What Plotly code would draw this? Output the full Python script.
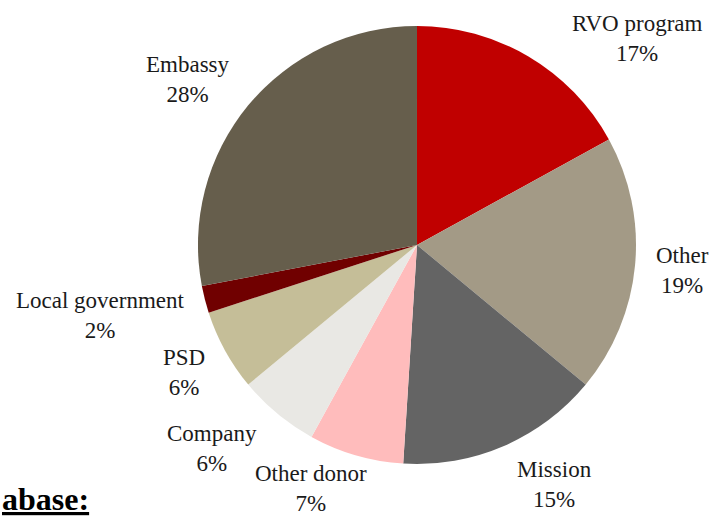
import plotly.graph_objects as go

# funding source shares (%), clockwise from 12 o'clock
sources = ["RVO program", "Other", "Mission", "Other donor", "Company", "PSD", "Local government", "Embassy"]
shares = [17, 19, 15, 7, 6, 6, 2, 28]
colors = ["#C00000", "#A39A86", "#646464", "#FFBCBC", "#E9E8E4", "#C5BE98", "#700000", "#665E4C"]

# label placement (paper coords), picked to sit like the original
label_x = [0.891, 0.955, 0.776, 0.435, 0.297, 0.257, 0.140, 0.263]
label_y = [0.925, 0.478, 0.066, 0.058, 0.136, 0.283, 0.393, 0.846]

fig = go.Figure()
fig.add_trace(go.Pie(
    labels=sources,
    values=shares,
    sort=False,
    direction="clockwise",
    rotation=0,
    marker=dict(colors=colors, line=dict(width=0)),
    textinfo="none",
    hoverinfo="label+percent",
    domain=dict(x=[0.2769, 0.8895], y=[0.106, 0.950]),
))

font = dict(family="Liberation Serif, Times New Roman, serif", size=23, color="#1a1a1a")
for name, val, x, y in zip(sources, shares, label_x, label_y):
    fig.add_annotation(
        text=f"{name}<br>{val}%", x=x, y=y, xref="paper", yref="paper",
        showarrow=False, font=font, align="center",
        xanchor="center", yanchor="middle",
    )

fig.add_annotation(
    text="<b><u>abase:</u></b>", x=0, y=0.0, xref="paper", yref="paper",
    showarrow=False, xanchor="left", yanchor="bottom",
    font=dict(family="Liberation Serif, Times New Roman, serif", size=32, color="#000000"),
)

fig.update_layout(
    width=715, height=519,
    margin=dict(l=0, r=0, t=0, b=0),
    showlegend=False,
    paper_bgcolor="white",
    plot_bgcolor="white",
)

fig.write_html("out.html", config={"displayModeBar": False},
               post_script="document.body.style.margin='0';")
